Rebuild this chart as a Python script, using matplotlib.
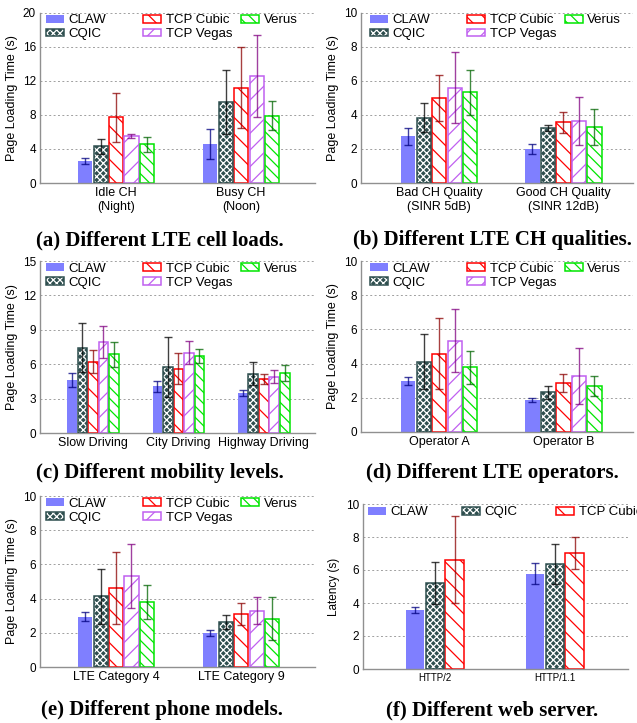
import numpy as np
import matplotlib
matplotlib.use('Agg')
import matplotlib.pyplot as plt
from matplotlib.patches import Patch
from matplotlib.legend import Legend

plt.rcParams['font.family'] = ['Liberation Sans', 'DejaVu Sans']
plt.rcParams['hatch.linewidth'] = 0.9

# --- data ---
protocols = ['CLAW', 'CQIC', 'TCP Cubic', 'TCP Vegas', 'Verus']

# (a) cell load
cats_a = ['Idle CH\n(Night)', 'Busy CH\n(Noon)']
mean_a = [[2.6, 4.3, 7.7, 5.5, 4.55],
          [4.55, 9.45, 11.2, 12.6, 7.9]]
err_a = [[0.33, 0.87, 2.9, 0.27, 0.9],
         [1.75, 3.75, 4.7, 4.8, 1.7]]

# (b) channel quality
cats_b = ['Bad CH Quality\n(SINR 5dB)', 'Good CH Quality\n(SINR 12dB)']
mean_b = [[2.75, 3.83, 4.98, 5.6, 5.32],
          [2.0, 3.22, 3.55, 3.62, 3.26]]
err_b = [[0.5, 0.86, 1.37, 2.1, 1.32],
         [0.28, 0.16, 0.6, 1.42, 1.06]]

# (c) mobility
cats_c = ['Slow Driving', 'City Driving', 'Highway Driving']
mean_c = [[4.6, 7.43, 6.2, 7.95, 6.85],
          [4.08, 5.74, 5.6, 7.0, 6.73],
          [3.5, 5.18, 4.7, 4.92, 5.27]]
err_c = [[0.62, 2.15, 1.0, 1.4, 1.1],
         [0.48, 2.63, 1.35, 1.0, 0.6],
         [0.28, 1.0, 0.44, 0.55, 0.7]]

# (d) operators
cats_d = ['Operator A', 'Operator B']
mean_d = [[2.97, 4.12, 4.59, 5.35, 3.78],
          [1.87, 2.31, 2.86, 3.28, 2.68]]
err_d = [[0.25, 1.63, 2.1, 1.86, 0.98],
         [0.14, 0.36, 0.55, 1.66, 0.6]]

# (e) phone models
cats_e = ['LTE Category 4', 'LTE Category 9']
mean_e = [[2.94, 4.13, 4.6, 5.33, 3.8],
          [2.0, 2.63, 3.09, 3.29, 2.83]]
err_e = [[0.26, 1.63, 2.1, 1.86, 0.97],
         [0.18, 0.41, 0.65, 0.8, 1.27]]

# (f) web server
cats_f = ['HTTP/2', 'HTTP/1.1']
mean_f = [[3.57, 5.19, 6.63],
          [5.78, 6.36, 7.05]]
err_f = [[0.17, 1.27, 2.65],
         [0.63, 1.2, 0.97]]

# --- styles ---
styles = [
    dict(face='#7f7fff', edge='none', hatch=None, ecol='#000080'),
    dict(face='#2f4f4f', edge='#2f4f4f', hatch='xxxxx', ecol='#000000'),
    dict(face='white', edge='#ff0000', hatch='\\\\', ecol='#8b0000'),
    dict(face='white', edge='#c060f0', hatch='//', ecol='#800080'),
    dict(face='white', edge='#00e600', hatch='\\\\\\', ecol='#006400'),
]


def draw_bar(ax, x, h, w, st):
    if st['hatch'] == 'xxxxx':
        # dark face with white checker pattern, dark outline on top
        ax.bar(x, h, w, color=st['face'], edgecolor='white',
               hatch=st['hatch'], linewidth=0, zorder=2)
        ax.bar(x, h, w, fill=False, edgecolor=st['edge'], linewidth=1.1,
               zorder=3)
    elif st['hatch'] is None:
        ax.bar(x, h, w, color=st['face'], linewidth=0, zorder=2)
    else:
        ax.bar(x, h, w, color=st['face'], edgecolor=st['edge'],
               hatch=st['hatch'], linewidth=1.1, zorder=2)


def make_handle(st):
    if st['hatch'] == 'xxxxx':
        return (Patch(facecolor=st['face'], edgecolor='white',
                      hatch=st['hatch'], linewidth=0),
                Patch(fill=False, edgecolor=st['edge'], linewidth=1.1))
    if st['hatch'] is None:
        return Patch(facecolor=st['face'], linewidth=0)
    return Patch(facecolor=st['face'], edgecolor=st['edge'],
                 hatch=st['hatch'], linewidth=1.1)


def panel(ax, cats, means, errs, ymax, yticks, xlim, step, width,
          ylabel='Page Loading Time (s)', cols=None, xfs=9, legy=0.99):
    means = np.array(means)
    errs = np.array(errs)
    n = means.shape[1]
    xs = np.arange(len(cats))
    for j in range(n):
        st = styles[j]
        pos = xs + (j - (n - 1) / 2) * step
        draw_bar(ax, pos, means[:, j], width, st)
        ax.errorbar(pos, means[:, j], yerr=errs[:, j], fmt='none',
                    ecolor=st['ecol'], elinewidth=1.0, capsize=2.8,
                    capthick=1.0, alpha=0.75, zorder=4)
    ax.set_xlim(*xlim)
    ax.set_ylim(0, ymax)
    ax.set_yticks(yticks)
    ax.set_xticks(xs)
    ax.set_xticklabels(cats, fontsize=xfs, linespacing=1.15)
    ax.tick_params(axis='y', labelsize=8.5, length=0, pad=3)
    ax.tick_params(axis='x', length=0, pad=3)
    ax.set_ylabel(ylabel, fontsize=9, labelpad=3)
    ax.yaxis.grid(True, color='#a0a0a0', linestyle=(0, (2, 2.5)),
                  linewidth=0.7)
    ax.set_axisbelow(True)
    for s in ['top', 'right']:
        ax.spines[s].set_visible(False)
    for s in ['left', 'bottom']:
        ax.spines[s].set_color('#909090')
        ax.spines[s].set_linewidth(1.0)
    # legend split into columns like the original
    if cols is None:
        cols = [([0, 1], 0.022), ([2, 3], 0.375), ([4], 0.731)]
    for idx, xa in cols:
        idx = [i for i in idx if i < n]
        leg = Legend(ax, [make_handle(styles[i]) for i in idx],
                     [protocols[i] for i in idx],
                     loc='upper left', bbox_to_anchor=(xa, legy),
                     frameon=False, fontsize=9.5, handlelength=1.35,
                     handleheight=0.55, handletextpad=0.35,
                     labelspacing=0.15, borderpad=0, borderaxespad=0)
        ax.add_artist(leg)


W, H = 637, 723
fig = plt.figure(figsize=(W / 100, H / 100), dpi=100)


def add_axes(l, t, r, b):
    return fig.add_axes([l / W, 1 - b / H, (r - l) / W, (b - t) / H])


ax_a = add_axes(40, 12.5, 315, 183)
ax_b = add_axes(361, 12.5, 633, 183)
ax_c = add_axes(40, 261, 315, 433)
ax_d = add_axes(361, 261, 633, 432)
ax_e = add_axes(40, 496, 315, 667)
ax_f = add_axes(363, 504, 628, 669)

panel(ax_a, cats_a, mean_a, err_a, 20, [0, 4, 8, 12, 16, 20],
      (-0.608, 1.59), 0.123, 0.113)
panel(ax_b, cats_b, mean_b, err_b, 10, [0, 2, 4, 6, 8, 10],
      (-0.63, 1.56), 0.125, 0.115,
      cols=[([0, 1], 0.033), ([2, 3], 0.39), ([4], 0.75)])
panel(ax_c, cats_c, mean_c, err_c, 15, [0, 3, 6, 9, 12, 15],
      (-0.62, 2.6), 0.123, 0.113)
panel(ax_d, cats_d, mean_d, err_d, 10, [0, 2, 4, 6, 8, 10],
      (-0.63, 1.56), 0.125, 0.115,
      cols=[([0, 1], 0.033), ([2, 3], 0.39), ([4], 0.75)])
panel(ax_e, cats_e, mean_e, err_e, 10, [0, 2, 4, 6, 8, 10],
      (-0.608, 1.59), 0.123, 0.113)
panel(ax_f, cats_f, mean_f, err_f, 10, [0, 2, 4, 6, 8, 10],
      (-0.6, 1.61), 0.164, 0.153, ylabel='Latency (s)',
      cols=[([0], 0.02), ([1], 0.374), ([2], 0.73)], xfs=7, legy=0.985)
ax_f.set_ylabel('Latency (s)', fontsize=8.5, labelpad=4)

captions = [
    (160, 245, '(a) Different LTE cell loads.'),
    (492, 245, '(b) Different LTE CH qualities.'),
    (160, 478, '(c) Different mobility levels.'),
    (492, 478, '(d) Different LTE operators.'),
    (162, 715, '(e) Different phone models.'),
    (492, 715, '(f) Different web server.'),
]
for cx, cy, txt in captions:
    fig.text(cx / W, 1 - cy / H, txt, ha='center', va='baseline',
             family='Liberation Serif', weight='bold', fontsize=15)

fig.savefig('out.png', dpi=100)
